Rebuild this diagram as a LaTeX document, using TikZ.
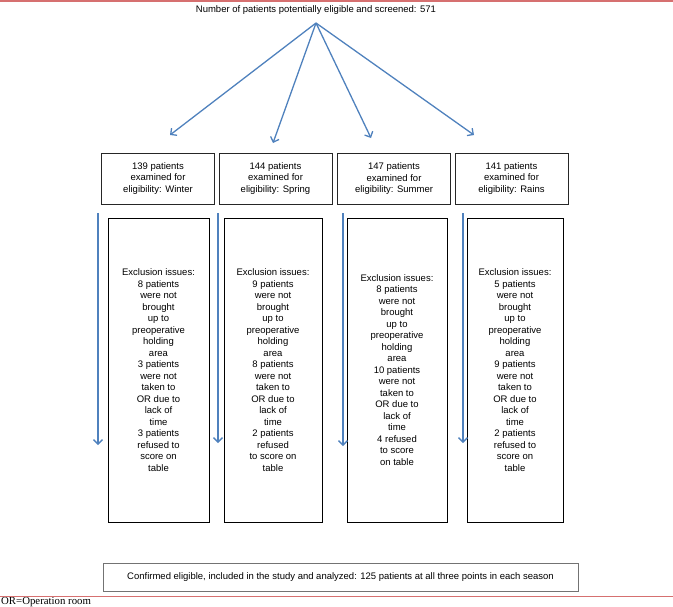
\documentclass[tikz,border=0pt]{standalone}
\usepackage{fontspec}
\setmainfont{Liberation Sans}
\newfontfamily\notefont{Liberation Serif}
\usepackage{xcolor}
\usetikzlibrary{arrows.meta,positioning,calc}

\definecolor{flowblue}{RGB}{79,129,189}
\definecolor{rulered}{RGB}{214,112,112}

\tikzset{
  season/.style={draw=black!85, line width=0.8pt, align=center, minimum width=113pt, minimum height=51pt, inner sep=0pt},
  exclusion/.style={draw=black, line width=0.8pt, align=center, minimum height=304pt, inner sep=0pt},
  flow/.style={draw=flowblue, line width=1.3pt, -{Straight Barb[length=4.5pt,width=9pt]}},
}

\begin{document}
\begin{tikzpicture}[x=1pt, y=-1pt, font=\fontsize{9.5}{11.5}\selectfont]
  \useasboundingbox (0,0) rectangle (673,606);

  % Define nodes
  \node (screened) at (316,10) {Number of patients potentially eligible and screened: 571};
  \coordinate (split) at (316,23);

  \node (winter) [season] at (158,178.5) {139 patients\\examined for\\eligibility: Winter};
  \node (spring) [season] at (275.5,178.5) {144 patients\\examined for\\eligibility: Spring};
  \node (summer) [season] at (394,179) {147 patients\\examined for\\eligibility: Summer};
  \node (rains) [season] at (511.5,178.5) {141 patients\\examined for\\eligibility: Rains};

  \node (exWinter) [exclusion, minimum width=101pt] at (158.5,370) {Exclusion issues:\\8 patients\\were not\\brought\\up to\\preoperative\\holding\\area\\3 patients\\were not\\taken to\\OR due to\\lack of\\time\\3 patients\\refused to\\score on\\table};
  \node (exSpring) [exclusion, minimum width=98pt] at (273,370) {Exclusion issues:\\9 patients\\were not\\brought\\up to\\preoperative\\holding\\area\\8 patients\\were not\\taken to\\OR due to\\lack of\\time\\2 patients\\refused\\to score on\\table};
  \node (exSummer) [exclusion, minimum width=100pt] at (397,370) {Exclusion issues:\\8 patients\\were not\\brought\\up to\\preoperative\\holding\\area\\10 patients\\were not\\taken to\\OR due to\\lack of\\time\\4 refused\\to score\\on table};
  \node (exRains) [exclusion, minimum width=96pt] at (515,370) {Exclusion issues:\\5 patients\\were not\\brought\\up to\\preoperative\\holding\\area\\9 patients\\were not\\taken to\\OR due to\\lack of\\time\\2 patients\\refused to\\score on\\table};

  \node (confirmed) [draw=black!55, line width=0.8pt, minimum width=475pt, minimum height=28pt, inner sep=0pt] at (340.5,577) {Confirmed eligible, included in the study and analyzed: 125 patients at all three points in each season};

  \node (note) [anchor=west, inner sep=0pt, font=\notefont\fontsize{10.8}{12}\selectfont] at (1,602) {OR=Operation room};

  % Arrow ends
  \coordinate (tipWinter) at (170,135);
  \coordinate (tipSpring) at (273,143);
  \coordinate (tipSummer) at (371,138);
  \coordinate (tipRains) at (474,135);
  \foreach \s/\x/\y in {Winter/98/445, Spring/218/443, Summer/343/446, Rains/463/443} {
    \coordinate (top\s) at (\x,213);
    \coordinate (end\s) at (\x,\y);
  }

  % Draw arrows
  \foreach \s in {Winter, Spring, Summer, Rains} {
    \draw[flow] (split) -- (tip\s);
    \draw[flow] (top\s) -- (end\s);
  }

  % Page rules
  \draw[rulered, line width=2pt] (0,0.5) -- (673,0.5);
  \draw[rulered, line width=0.8pt] (0,596) -- (673,596);
\end{tikzpicture}
\end{document}
